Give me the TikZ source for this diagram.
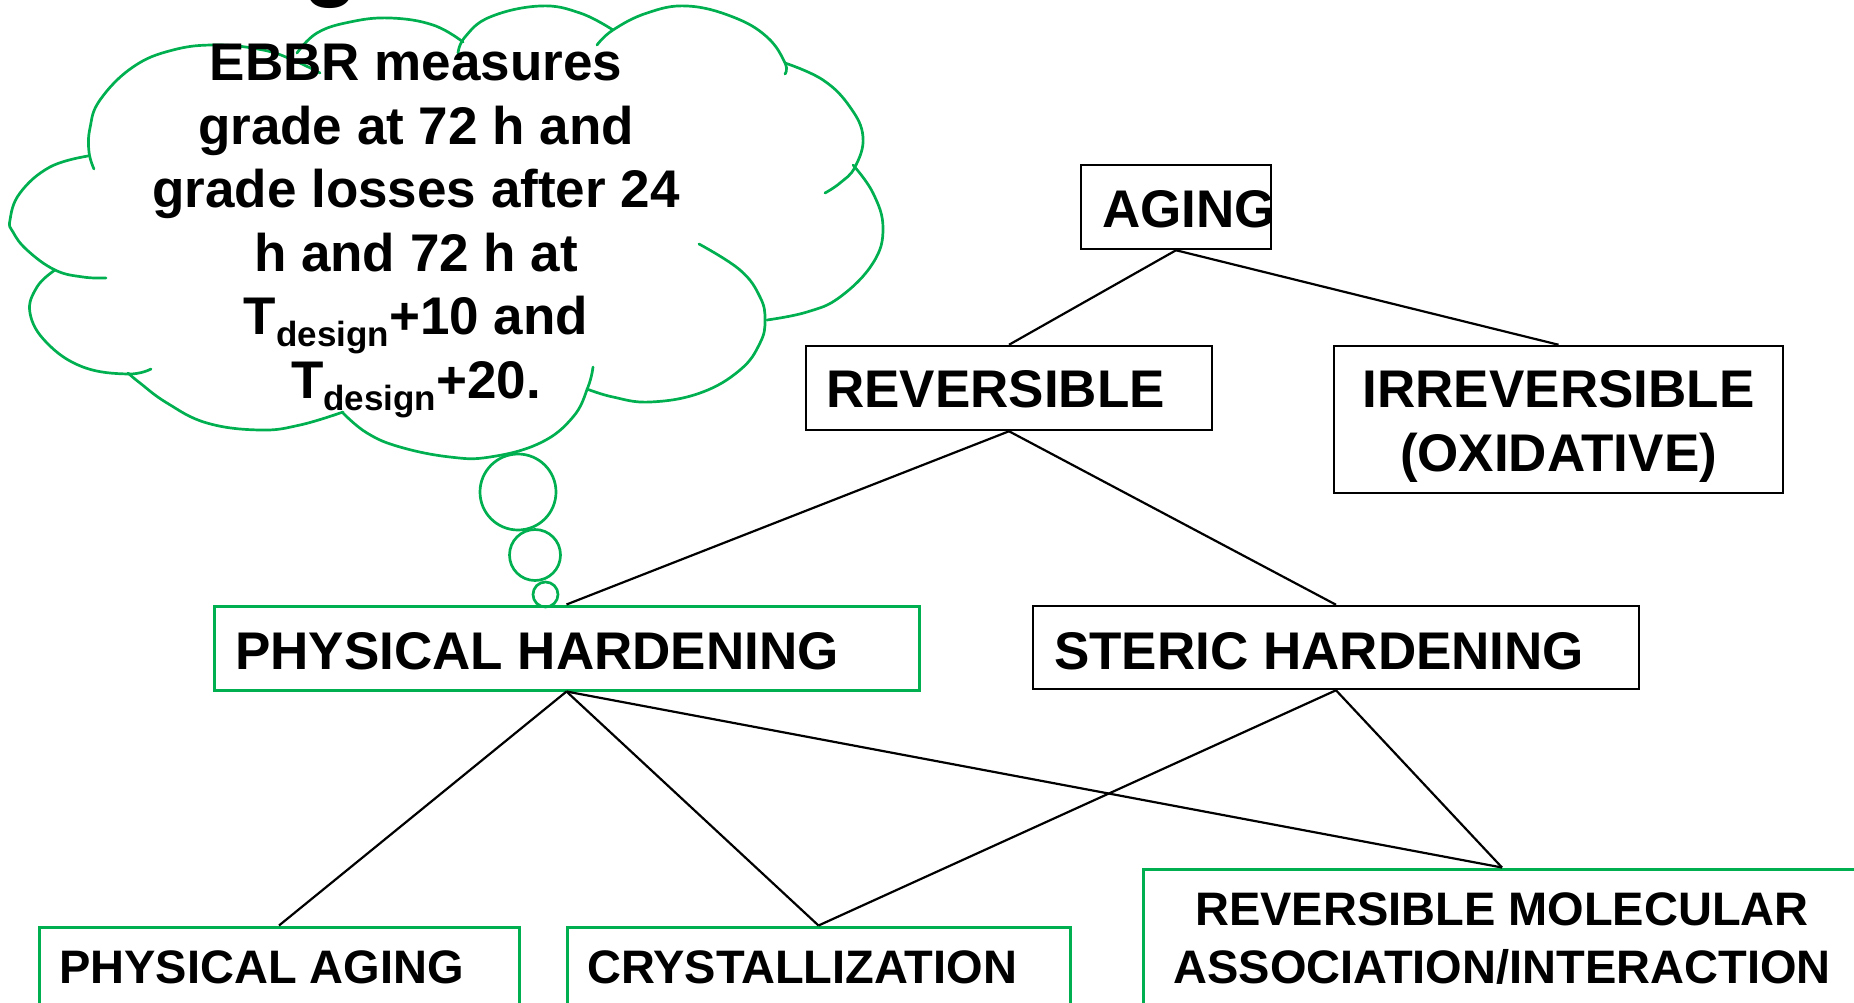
\documentclass[tikz,border=0pt]{standalone}
\usepackage{fontspec}
\setmainfont{Liberation Sans}
\definecolor{pgreen}{RGB}{0,176,80}
\tikzset{
  box/.style={draw=black, line width=2.5pt, rectangle, inner sep=0pt},
  gbox/.style={draw=pgreen, line width=3pt, rectangle, inner sep=0pt},
  lbl/.style={inner sep=0pt, font=\bfseries\fontsize{53}{63.5}\selectfont},
  slbl/.style={inner sep=0pt, font=\bfseries\fontsize{47}{58}\selectfont},
  conn/.style={line width=2.2pt, draw=black},
  puff/.style={draw=pgreen, line width=2.7pt, line cap=round},
  bubble/.style={circle, draw=pgreen, line width=2.7pt, inner sep=0pt}
}
\newcommand{\tdes}{T\raisebox{-12pt}{\fontsize{35}{35}\selectfont design}}
\begin{document}
\begin{tikzpicture}[x=1pt, y=-1pt]
\useasboundingbox (0,0) rectangle (1854,1002);
\clip (0,0) rectangle (1854,1002);

% fragment of a title glyph at the top edge
\node[inner sep=0pt, anchor=base, font=\bfseries\fontsize{90}{90}\selectfont] (titlefrag) at (331,-11) {g};

% thought cloud
\draw[puff] plot[smooth, tension=0.7] coordinates {(94,169) (89,152) (90,128) (100,100) (133,67) (173,50) (217,45) (263,50) (293,60) (320,73)};
\draw[puff] plot[smooth, tension=0.7] coordinates {(297,53) (317,33) (350,22) (390,18) (433,25) (463,42)};
\draw[puff] plot[smooth, tension=0.7] coordinates {(458,53) (465,37) (490,17) (540,6) (580,13) (613,30)};
\draw[puff] plot[smooth, tension=0.7] coordinates {(597,45) (613,30) (647,13) (687,6) (733,17) (767,37) (785,63) (785,74)};
\draw[puff] plot[smooth, tension=0.7] coordinates {(785,63) (823,80) (850,107) (863,137) (855,167) (840,183) (825,193)};
\draw[puff] plot[smooth, tension=0.7] coordinates {(853,165) (873,193) (883,228) (873,263) (840,297) (807,312) (767,320)};
\draw[puff] plot[smooth, tension=0.7] coordinates {(699,244) (740,270) (760,297) (765,320) (760,343) (740,370) (700,393) (650,402) (613,397) (587,389)};
\draw[puff] plot[smooth, tension=0.7] coordinates {(593,367) (588,387) (573,417) (540,443) (490,457) (450,457) (400,447) (367,433) (343,413)};
\draw[puff] plot[smooth, tension=0.7] coordinates {(343,412) (300,425) (260,430) (207,423) (167,403) (140,383) (128,373)};
\draw[puff] plot[smooth, tension=0.7] coordinates {(151,369) (128,374) (83,367) (47,343) (30,313) (37,287) (55,270)};
\draw[puff] plot[smooth, tension=0.7] coordinates {(88,156) (50,167) (20,193) (10,220) (13,232) (27,250) (55,270) (83,277) (106,278)};

\node[bubble, minimum size=76pt] (bub1) at (518,492) {};
\node[bubble, minimum size=51pt] (bub2) at (535,555) {};
\node[bubble, minimum size=25pt] (bub3) at (545.5,594.5) {};

\node[lbl, align=center, anchor=base] (cloudtext) at (416,398)
  {EBBR measures\\grade at 72 h and\\grade losses after 24\\h and 72 h at\\\tdes+10 and\\\tdes+20.};

% boxes
\node[box, minimum width=190pt, minimum height=84pt] (aging) at (1176,207) {};
\node[box, minimum width=406pt, minimum height=84pt] (rev) at (1009,388) {};
\node[box, minimum width=449pt, minimum height=147pt] (irr) at (1558.5,419.5) {};
\node[gbox, minimum width=705pt, minimum height=84pt] (ph) at (566.5,648) {};
\node[box, minimum width=606pt, minimum height=83pt] (steric) at (1336,647.5) {};
\node[gbox, minimum width=480pt, minimum height=103pt] (pa) at (279,978.5) {};
\node[gbox, minimum width=503pt, minimum height=103pt] (cryst) at (818.5,978.5) {};
\node[gbox, minimum width=718pt, minimum height=161pt] (rma) at (1502,949.5) {};

% labels
\node[lbl, anchor=base west] (agingtxt) at (1102,227) {AGING};
\node[lbl, anchor=base west] (revtxt) at (826,407) {REVERSIBLE};
\node[lbl, align=center, anchor=base] (irrtxt) at (1558.5,471) {IRREVERSIBLE\\(OXIDATIVE)};
\node[lbl, anchor=base west] (phtxt) at (235,669) {PHYSICAL HARDENING};
\node[lbl, anchor=base west] (sterictxt) at (1054,669) {STERIC HARDENING};
\node[slbl, anchor=base west] (patxt) at (59,983) {PHYSICAL AGING};
\node[slbl, anchor=base west] (crysttxt) at (587,983) {CRYSTALLIZATION};
\node[slbl, align=center, anchor=base] (rmatxt) at (1502,983) {REVERSIBLE MOLECULAR\\ASSOCIATION/INTERACTION};

% connectors
\draw[conn] (aging.south) -- (rev.north);
\draw[conn] (aging.south) -- (irr.north);
\draw[conn] (rev.south) -- (ph.north);
\draw[conn] (rev.south) -- (steric.north);
\draw[conn] (ph.south) -- (pa.north);
\draw[conn] (ph.south) -- (cryst.north);
\draw[conn] (ph.south) -- (rma.north);
\draw[conn] (steric.south) -- (cryst.north);
\draw[conn] (steric.south) -- (rma.north);
\end{tikzpicture}
\end{document}
